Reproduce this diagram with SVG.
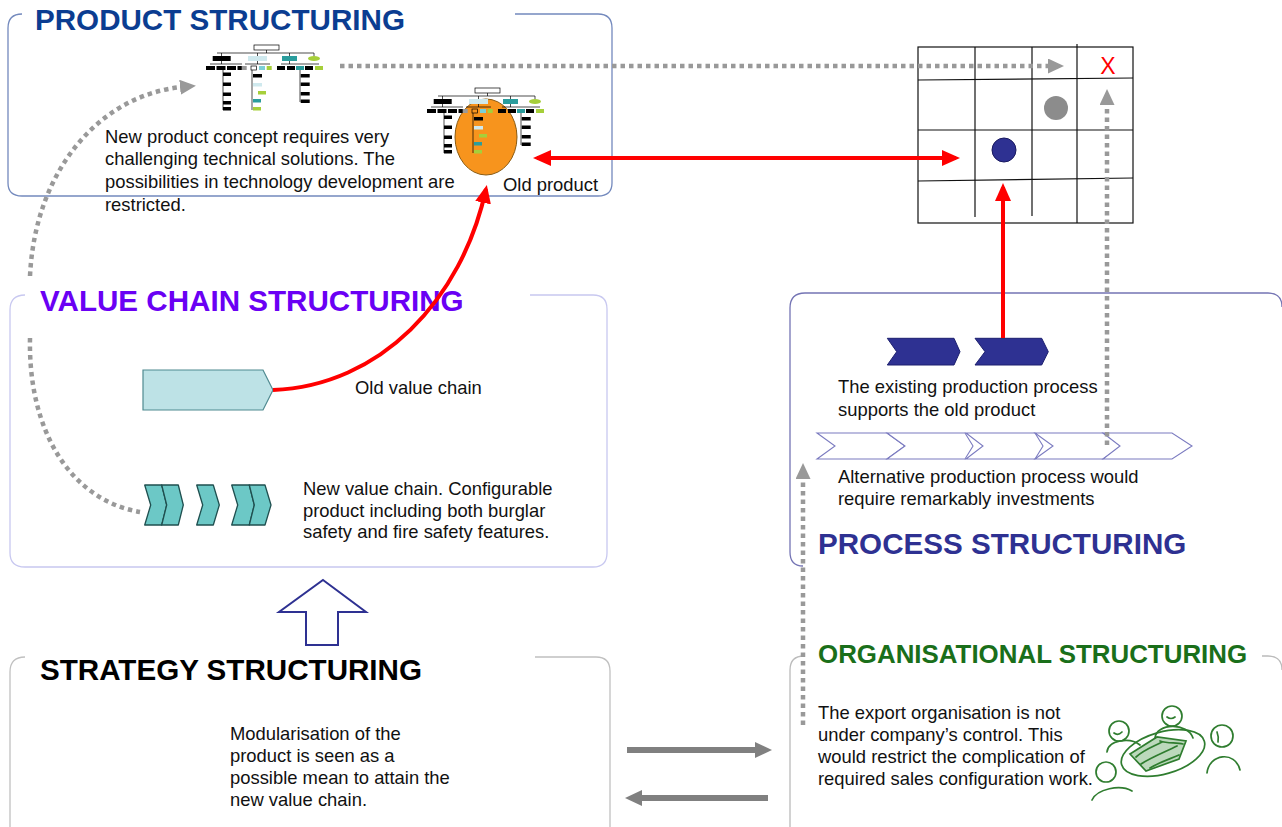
<svg xmlns="http://www.w3.org/2000/svg" width="1282" height="827" viewBox="0 0 1282 827">
  <style>
    .title { font-family: "Liberation Sans", Arial, sans-serif; font-weight: bold; font-size: 29.6px; }
    .body { font-family: "Liberation Sans", Arial, sans-serif; font-size: 18.4px; fill: #111; }
    .frame { fill: none; stroke-width: 1.3; }
    .grid line, .grid rect { stroke: #111; stroke-width: 1.2; fill: none; }
    .dots { fill: none; stroke: #999; stroke-width: 4.5; stroke-dasharray: 4.5 4; }
    .red { fill: none; stroke: #f00; stroke-width: 4; }
    .solid { fill: none; stroke: #808080; stroke-width: 6; }
    .sketch { fill: none; stroke: #2f7d2f; stroke-width: 1.7; stroke-linecap: round; }
    .oc { stroke: #000; stroke-width: 0.7; fill: none; }
  </style>
  <defs>
    <marker id="redHead" markerUnits="userSpaceOnUse" markerWidth="18" markerHeight="16" refX="14" refY="8" orient="auto-start-reverse">
      <path d="M0,0 L18,8 L0,16 Z" fill="#f00"/>
    </marker>
    <marker id="dotHead" markerUnits="userSpaceOnUse" markerWidth="16" markerHeight="15" refX="2" refY="7.5" orient="auto">
      <path d="M0,0 L16,7.5 L0,15 Z" fill="#999"/>
    </marker>
    <marker id="grayHead" markerUnits="userSpaceOnUse" markerWidth="17" markerHeight="16" refX="4" refY="8" orient="auto">
      <path d="M0,0 L17,8 L0,16 Z" fill="#808080"/>
    </marker>
    <!-- small organisation chart used in the product panel -->
    <g id="orgchart">
      <rect x="254" y="45" width="25" height="5" fill="#fff" class="oc"/>
      <line x1="266.5" y1="50" x2="266.5" y2="53" class="oc"/>
      <line x1="217" y1="53" x2="314" y2="53" class="oc"/>
      <path d="M221.5,53 V56 M257.5,53 V56 M289.5,53 V56 M314,53 V56" class="oc"/>
      <rect x="212.7" y="56" width="18" height="5" fill="#000"/>
      <rect x="248" y="56" width="19" height="5" fill="#cfe9ee"/>
      <rect x="282" y="56" width="15" height="5" fill="#2a9d9d"/>
      <ellipse cx="314" cy="58.5" rx="6" ry="2.6" fill="#a6cf3a"/>
      <path d="M221.5,61 V64 M210,64 H242 M257.5,61 V64 M245,64 H270 M289.5,61 V64 M281,64 H319" class="oc"/>
      <rect x="206" y="66" width="9" height="4" fill="#000"/>
      <rect x="216.5" y="66" width="9" height="4" fill="#000"/>
      <rect x="227" y="66" width="9" height="4" fill="#000"/>
      <rect x="237.5" y="66" width="8" height="4" fill="#000"/>
      <rect x="241.7" y="66" width="5" height="4" fill="#999"/>
      <rect x="251" y="66" width="5.5" height="4" fill="#fff" class="oc"/>
      <rect x="259" y="66" width="6" height="4" fill="#7ccfd6"/>
      <rect x="266.7" y="66" width="5" height="4" fill="#a6cf3a"/>
      <rect x="277" y="66" width="8" height="4" fill="#000"/>
      <rect x="287" y="66" width="8" height="4" fill="#000"/>
      <rect x="296" y="66" width="8" height="4" fill="#2a9d9d"/>
      <rect x="305" y="66" width="8" height="4" fill="#000"/>
      <rect x="315" y="66" width="8" height="4" fill="#a6cf3a"/>
      <line x1="223" y1="70" x2="223" y2="110" class="oc"/>
      <rect x="223" y="72.5" width="8" height="3.5" fill="#000"/>
      <rect x="223" y="82.5" width="8" height="3.5" fill="#000"/>
      <rect x="223" y="92.5" width="8" height="3.5" fill="#000"/>
      <rect x="223" y="101" width="8" height="3.5" fill="#000"/>
      <rect x="223" y="107" width="8" height="3.5" fill="#000"/>
      <line x1="252" y1="70" x2="252" y2="110" class="oc"/>
      <rect x="253" y="74" width="9" height="3.5" fill="#000"/>
      <rect x="253" y="83" width="9" height="3.5" fill="#cfe9ee"/>
      <rect x="258" y="91" width="8" height="3.5" fill="#a6cf3a"/>
      <rect x="253" y="99" width="8" height="3.5" fill="#2a9d9d"/>
      <rect x="253" y="107" width="8" height="3.5" fill="#a6cf3a"/>
      <line x1="300" y1="70" x2="300" y2="102" class="oc"/>
      <rect x="300.7" y="74" width="9" height="3.5" fill="#000"/>
      <rect x="300.7" y="82.5" width="9" height="3.5" fill="#000"/>
      <rect x="300.7" y="92" width="9" height="3.5" fill="#000"/>
      <rect x="300.7" y="99.5" width="9" height="3.5" fill="#000"/>
    </g>
  </defs>

  <rect width="1282" height="827" fill="#fff"/>

  <!-- PRODUCT STRUCTURING -->
  <g id="product">
    <path class="frame" stroke="#7389bd" d="M22,14 Q8,14 8,28 V183 Q8,196 22,196 H598 Q612,196 612,183 V28 Q612,14 598,14 H515"/>
    <text class="title" x="35" y="30" fill="#0b3d91">PRODUCT STRUCTURING</text>
    <use href="#orgchart"/>
    <ellipse cx="486" cy="137" rx="31" ry="38" fill="#f7941d" stroke="#8a5a10" stroke-width="1"/>
    <use href="#orgchart" transform="translate(221,43)"/>
    <text class="body" x="105" y="143">New product concept requires very</text>
    <text class="body" x="105" y="165">challenging technical solutions. The</text>
    <text class="body" x="105" y="188">possibilities in technology development are</text>
    <text class="body" x="105" y="211">restricted.</text>
    <text class="body" x="503" y="191">Old product</text>
  </g>

  <!-- product / process matrix -->
  <g id="matrix" class="grid">
    <rect x="918" y="47" width="215" height="176"/>
    <line x1="975" y1="47" x2="975" y2="217"/>
    <line x1="1032" y1="47" x2="1032" y2="216"/>
    <line x1="1077" y1="44" x2="1077" y2="223"/>
    <line x1="918" y1="80" x2="1133" y2="78"/>
    <line x1="918" y1="130" x2="1133" y2="130"/>
    <line x1="918" y1="181" x2="1133" y2="178"/>
    <circle cx="1056" cy="108" r="12" fill="#8c8c8c" stroke="none"/>
    <circle cx="1004" cy="150" r="12" fill="#2e3192" stroke="#1a1a60" stroke-width="1"/>
    <text x="1108" y="74" text-anchor="middle" font-family="Liberation Sans, Arial, sans-serif" font-size="23" fill="#f00">X</text>
  </g>

  <!-- VALUE CHAIN STRUCTURING -->
  <g id="valuechain">
    <path class="frame" stroke="#c8c8f0" d="M25,295 Q10,295 10,310 V553 Q10,567 25,567 H593 Q607,567 607,553 V309 Q607,295 593,295 H530"/>
    <text class="title" x="40" y="311" fill="#6a00f4">VALUE CHAIN STRUCTURING</text>
    <path d="M143,370 H263 L273,390 L263,410 H143 Z" fill="#bde2e6" stroke="#4f8a90" stroke-width="1.2"/>
    <text class="body" x="355" y="394">Old value chain</text>
    <g fill="#6cc8c6" stroke="#1f4f4f" stroke-width="1.3" stroke-linejoin="round">
      <path d="M144.7,485 H161.7 L166.7,505 L161.7,525 H144.7 L150.7,505 Z"/>
      <path d="M161.7,485 H178.3 L183.3,505 L178.3,525 H161.7 L166.7,505 Z"/>
      <path d="M196.7,485 H213.3 L219.3,505 L213.3,525 H196.7 L202.7,505 Z"/>
      <path d="M231.7,485 H249.3 L254.3,505 L249.3,525 H231.7 L237.7,505 Z"/>
      <path d="M249.3,485 H265 L271,505 L265,525 H249.3 L254.3,505 Z"/>
    </g>
    <text class="body" x="303" y="495">New value chain. Configurable</text>
    <text class="body" x="303" y="517">product including both burglar</text>
    <text class="body" x="303" y="538">safety and fire safety features.</text>
  </g>

  <!-- STRATEGY STRUCTURING -->
  <g id="strategy">
    <path class="frame" stroke="#c0c0c0" d="M25,657 Q10,657 10,672 V827 M610,827 V671 Q610,657 596,657 H535"/>
    <text class="title" x="40" y="680" fill="#000">STRATEGY STRUCTURING</text>
    <text class="body" x="230" y="740">Modularisation of the</text>
    <text class="body" x="230" y="762">product is seen as a</text>
    <text class="body" x="230" y="784">possible mean to attain the</text>
    <text class="body" x="230" y="806">new value chain.</text>
  </g>

  <!-- PROCESS STRUCTURING -->
  <g id="process">
    <path class="frame" stroke="#7474b4" d="M803,566 Q790,566 790,552 V308 Q790,293 805,293 H1268 Q1282,293 1282,307"/>
    <g fill="#2e3192" stroke="#1c1f6e" stroke-width="1">
      <path d="M887.3,338.3 H954 L960,351.7 L954,365 H887.3 L896.7,351.7 Z"/>
      <path d="M975,338.3 H1041.7 L1048.3,351.7 L1041.7,365 H975 L985,351.7 Z"/>
    </g>
    <text class="body" x="838" y="393">The existing production process</text>
    <text class="body" x="838" y="416">supports the old product</text>
    <g fill="#fff" stroke="#7b7bc0" stroke-width="1.1">
      <path d="M817,433 H887 L905,446 L887,459 H817 L835,446 Z"/>
      <path d="M887,433 H965 L973,446 L965,459 H887 L905,446 Z"/>
      <path d="M966,433 H1035 L1043,446 L1035,459 H966 L983,446 Z"/>
      <path d="M1035,433 H1103 L1122,446 L1103,459 H1035 L1053,446 Z"/>
      <path d="M1103,433 H1172 L1192,446 L1172,459 H1103 L1120,446 Z"/>
    </g>
    <text class="body" x="838" y="483">Alternative production process would</text>
    <text class="body" x="838" y="505">require remarkably investments</text>
    <text class="title" x="818" y="554" fill="#2e3192">PROCESS STRUCTURING</text>
  </g>

  <!-- ORGANISATIONAL STRUCTURING -->
  <g id="organisation">
    <path class="frame" stroke="#bbbbbb" d="M790,827 V670 Q790,656 804,656 M1262,656 H1268 Q1282,656 1282,670"/>
    <text class="title" x="818" y="663" fill="#1a6f1a" style="font-size:25.9px">ORGANISATIONAL STRUCTURING</text>
    <text class="body" x="818" y="719">The export organisation is not</text>
    <text class="body" x="818" y="741">under company’s control. This</text>
    <text class="body" x="818" y="763">would restrict the complication of</text>
    <text class="body" x="818" y="785">required sales configuration work.</text>
    <!-- people around a negotiating table -->
    <g class="sketch">
      <ellipse cx="1163" cy="753" rx="43" ry="21" transform="rotate(-16 1163 753)"/>
      <path d="M1130,754 L1157,737 L1186,741 L1179,759 L1146,771 Z" fill="#8fc08f" fill-opacity="0.6"/>
      <path d="M1136,757 C1145,749 1155,746 1162,742 M1141,764 C1152,757 1165,752 1177,746 M1150,768 C1160,762 1170,759 1179,755 M1160,741 C1168,744 1176,742 1183,744"/>
      <circle cx="1172" cy="716" r="10"/>
      <path d="M1167,717 q4,3 8,0"/>
      <path d="M1155,738 C1156,723 1188,722 1193,738"/>
      <circle cx="1119" cy="731" r="10"/>
      <path d="M1114,733 q4,3 8,-1"/>
      <path d="M1107,752 C1108,740 1130,737 1140,745"/>
      <circle cx="1222" cy="736" r="11"/>
      <path d="M1217,732 q2,5 1,10"/>
      <path d="M1207,773 C1209,754 1235,750 1240,770"/>
      <circle cx="1106" cy="772" r="10"/>
      <path d="M1092,800 C1097,789 1120,784 1132,791"/>
    </g>
  </g>

  <!-- connectors -->
  <g id="connectors">
    <path class="dots" d="M340,66 H1050" marker-end="url(#dotHead)"/>
    <path class="dots" d="M1107,445 V103" marker-end="url(#dotHead)"/>
    <path class="dots" d="M30,276 C35,170 100,95 182,87" marker-end="url(#dotHead)"/>
    <path class="dots" d="M30,338 C28,430 70,500 140,512"/>
    <path class="dots" d="M803,725 V477" marker-end="url(#dotHead)"/>
    <path class="red" d="M537,158 H956" marker-start="url(#redHead)" marker-end="url(#redHead)"/>
    <path class="red" d="M1003,338 V187" marker-end="url(#redHead)"/>
    <path class="red" d="M273,390 C380,386 462,300 486,189" marker-end="url(#redHead)"/>
    <path class="solid" d="M627,750 H759" marker-end="url(#grayHead)"/>
    <path class="solid" d="M768,798 H638" marker-end="url(#grayHead)"/>
    <path d="M323,580 L366,612 H338 V645 H306 V612 H279 Z" fill="#fff" stroke="#2e3192" stroke-width="2"/>
  </g>
</svg>
